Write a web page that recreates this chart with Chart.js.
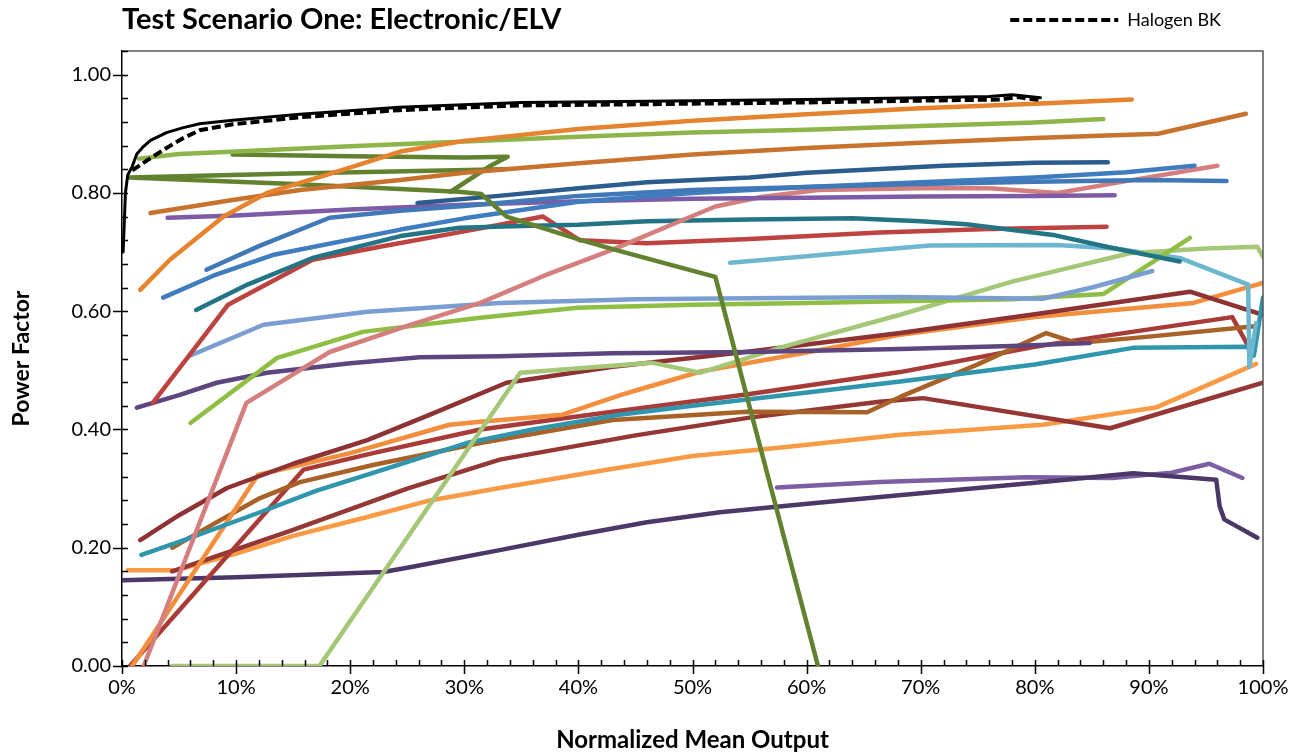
<!DOCTYPE html>
<html>
<head>
<meta charset="utf-8">
<script src="https://cdn.jsdelivr.net/npm/chart.js@4"></script>
<style>
html,body{margin:0;padding:0;background:#fff;}
#wrap{width:1305px;height:755px;}
</style>
</head>
<body>
<div id="wrap"><canvas id="c" width="1305" height="755"></canvas></div>
<script>
// ---- data: [normalized output %, power factor] ----
const halogenSolid = [[0.1,0.70],[0.3,0.80],[0.5,0.83],[0.9,0.845],[1.3,0.866],[1.8,0.877],[2.5,0.889],[3.9,0.902],[5.3,0.91],[6.8,0.917],[9.7,0.923],[15.6,0.933],[24.3,0.945],[35,0.953],[46,0.955],[60,0.958],[70,0.961],[76,0.963],[78,0.966],[80.5,0.961]];
const halogenBK = [[0.9,0.838],[2.2,0.855],[3.9,0.876],[5.3,0.892],[6.8,0.906],[9.7,0.916],[15.6,0.928],[24.3,0.940],[35,0.948],[46,0.950],[60,0.953],[70,0.956],[77,0.958],[78.5,0.962],[80.5,0.957]];
const orangeTop = [[1.6,0.636],[4.2,0.687],[8.9,0.76],[12.7,0.80],[18.5,0.834],[24.4,0.870],[30,0.888],[40,0.908],[50,0.922],[60,0.933],[70,0.943],[80,0.951],[88.5,0.958]];
const greenTop = [[1.5,0.858],[5,0.866],[10,0.870],[20,0.879],[30,0.887],[40,0.895],[50,0.902],[60,0.907],[70,0.913],[80,0.919],[86,0.925]];
const darkOrange = [[2.5,0.766],[9.7,0.788],[15.6,0.805],[24.4,0.822],[30,0.834],[40,0.850],[50,0.865],[60,0.876],[70,0.885],[80,0.893],[90.8,0.900],[98.5,0.934]];
const darkGreenA = [[9.7,0.865],[20,0.862],[30,0.860],[33.8,0.861],[32.3,0.846],[28.8,0.802]];
const darkGreenB = [[33.5,0.840],[15,0.833],[0.6,0.826],[15,0.815],[29.5,0.802],[31.5,0.798],[33.7,0.76],[40.1,0.721],[43,0.705],[52,0.658],[61,0]];
const navyBlue = [[25.9,0.783],[33,0.795],[40,0.808],[46,0.818],[55,0.826],[60,0.834],[66,0.840],[72,0.846],[80,0.851],[86.4,0.852]];
const blueA = [[7.4,0.67],[12,0.71],[18.2,0.758],[24.4,0.770],[30,0.778],[40,0.795],[50,0.805],[60,0.810],[70,0.815],[80,0.819],[90,0.822],[96.8,0.820]];
const blueB = [[3.6,0.623],[8,0.66],[13.2,0.695],[24.4,0.738],[30,0.757],[40,0.785],[50,0.800],[60,0.810],[70,0.818],[80,0.826],[88,0.835],[94,0.846]];
const purpleTop = [[4,0.758],[10,0.762],[20,0.772],[30,0.780],[40,0.786],[50,0.790],[60,0.792],[70,0.794],[80,0.795],[87,0.796]];
const pink = [[1.9,0],[10.9,0.445],[13.2,0.472],[18.2,0.531],[25,0.575],[31.4,0.614],[37,0.66],[43,0.704],[48,0.745],[52,0.777],[56,0.793],[61,0.805],[70,0.808],[76,0.808],[82,0.80],[88,0.82],[96,0.846]];
const darkTeal = [[6.5,0.602],[11,0.645],[16.7,0.69],[24.4,0.727],[29.6,0.741],[35,0.744],[40,0.746],[46,0.752],[55,0.755],[64,0.757],[70,0.752],[74,0.747],[81.6,0.729],[86.3,0.709],[92.7,0.684]];
const redUpper = [[2.7,0.445],[9.3,0.611],[16.7,0.687],[22.6,0.709],[30,0.735],[36.9,0.76],[40.1,0.72],[46,0.715],[55,0.722],[66.4,0.733],[76,0.739],[86.3,0.743]];
const lightBlue = [[6,0.525],[12.4,0.577],[21.5,0.599],[33.1,0.614],[45,0.620],[55,0.622],[68.2,0.624],[80.7,0.621],[85,0.640],[90.3,0.668]];
const greenMid = [[6,0.411],[13.6,0.521],[21.1,0.565],[31.4,0.589],[39.9,0.606],[50,0.611],[60,0.614],[68.2,0.617],[78,0.620],[86,0.629],[93.6,0.724]];
const darkPurple = [[1.3,0.437],[5,0.458],[8.3,0.479],[12.7,0.496],[20,0.512],[26.1,0.522],[33.1,0.524],[43,0.529],[55,0.531],[68.2,0.536],[78,0.541],[84.8,0.546]];
const lightGreen = [[4.4,0],[17.3,0],[31.1,0.389],[34.9,0.496],[46.4,0.513],[50.7,0.496],[58,0.54],[68.2,0.594],[78,0.65],[88.3,0.698],[95,0.706],[99.5,0.709],[100,0.692]];
const lightAqua = [[53.3,0.682],[60,0.693],[66.4,0.704],[70.8,0.711],[81.9,0.712],[87,0.706],[92.7,0.69],[98.7,0.645],[98.8,0.506],[99.4,0.58]];
const aqua = [[1.7,0.188],[5,0.21],[12.1,0.26],[17,0.296],[22.9,0.332],[30.2,0.377],[36,0.40],[43.6,0.425],[50,0.44],[58,0.458],[68.2,0.481],[80,0.51],[88.6,0.538],[98.6,0.54],[99.2,0.525],[100,0.623]];
const maroon = [[1.6,0.213],[5,0.255],[9.2,0.301],[15,0.342],[21.5,0.382],[27,0.425],[33.7,0.479],[43,0.506],[55,0.532],[68.2,0.563],[80,0.595],[93.6,0.633],[100,0.594]];
const orangeMid = [[0.9,0],[11.9,0.323],[20,0.36],[28.7,0.408],[31.4,0.413],[38.6,0.425],[44,0.46],[50.7,0.498],[60,0.53],[68.2,0.56],[80,0.59],[93.9,0.614],[100,0.648]];
const brown = [[4.4,0.2],[8,0.24],[12.1,0.284],[15.6,0.311],[22,0.34],[31.4,0.377],[43,0.416],[54.8,0.43],[65.3,0.429],[68.2,0.455],[75,0.51],[81,0.563],[83.7,0.546],[90,0.557],[99.5,0.575]];
const redMid = [[0.7,0],[15.9,0.332],[22,0.36],[31.4,0.40],[43,0.43],[55,0.46],[68.2,0.497],[80,0.54],[85.7,0.557],[97.3,0.59],[98.8,0.538]];
const darkRed = [[4.4,0.16],[15,0.23],[25,0.30],[33.1,0.349],[45,0.39],[55,0.42],[66.4,0.447],[70.2,0.453],[86.6,0.402],[100,0.479]];
const orangeLow = [[0.5,0.162],[4.8,0.162],[10,0.19],[15,0.22],[21.5,0.252],[27,0.28],[33.1,0.301],[42.5,0.332],[50,0.355],[58,0.37],[68.2,0.391],[80.7,0.408],[90.6,0.437],[99.4,0.511]];
const indigo = [[0,0.145],[10,0.15],[22.9,0.159],[25,0.166],[33.1,0.196],[40,0.222],[46,0.243],[52.4,0.26],[61,0.276],[70,0.292],[80,0.31],[88.6,0.326],[95.9,0.315],[96.2,0.27],[96.6,0.248],[99.5,0.217]];
const purpleLow = [[57.4,0.302],[66.4,0.311],[79.3,0.319],[86.8,0.318],[92,0.327],[95.3,0.342],[98.2,0.318]];

const xTicks = [0,10,20,30,40,50,60,70,80,90,100];
const yTicks = [0,0.2,0.4,0.6,0.8,1.0];
const halogenDash = [9, 4];

function mk(label, pts, color, extra) {
  return Object.assign({
    label: label,
    data: pts.map(p => ({x: p[0], y: p[1]})),
    borderColor: color,
    backgroundColor: color,
    borderWidth: 4.5,
    pointRadius: 0,
    pointHoverRadius: 0,
    tension: 0,
    fill: false,
    borderCapStyle: 'round',
    borderJoinStyle: 'round'
  }, extra || {});
}

const datasets = [
  mk('Halogen BK', halogenBK, '#000000', {borderWidth: 4, borderDash: halogenDash, borderCapStyle: 'butt'}),
  mk('halogenSolid', halogenSolid, '#000000', {borderWidth: 3}),
  mk('orangeTop', orangeTop, '#E5832F'),
  mk('greenTop', greenTop, '#8DB54A'),
  mk('darkOrange', darkOrange, '#C9722E'),
  mk('darkGreenA', darkGreenA, '#62822F'),
  mk('darkGreenB', darkGreenB, '#62822F'),
  mk('navyBlue', navyBlue, '#2C5C8E'),
  mk('blueA', blueA, '#4179B8'),
  mk('blueB', blueB, '#3F7CC0'),
  mk('purpleTop', purpleTop, '#7D5BA6'),
  mk('pink', pink, '#D47F7E'),
  mk('darkTeal', darkTeal, '#237585'),
  mk('redUpper', redUpper, '#BE4340'),
  mk('lightBlue', lightBlue, '#7A9ED2'),
  mk('greenMid', greenMid, '#8FBE45'),
  mk('darkPurple', darkPurple, '#5D4580'),
  mk('lightGreen', lightGreen, '#A5C878'),
  mk('lightAqua', lightAqua, '#6CB6CF'),
  mk('aqua', aqua, '#3096AE'),
  mk('maroon', maroon, '#8E3234'),
  mk('orangeMid', orangeMid, '#F28E3C'),
  mk('brown', brown, '#A86127'),
  mk('redMid', redMid, '#A83A38'),
  mk('darkRed', darkRed, '#953735'),
  mk('orangeLow', orangeLow, '#F99A45'),
  mk('indigo', indigo, '#4B3868'),
  mk('purpleLow', purpleLow, '#7C5EA2')
];

const FONT = 'Lato, "Open Sans", sans-serif';

// put the legend on the same row as the title
const legendRowPlugin = {
  id: 'legendRow',
  afterLayout(chart) {
    const lg = chart.legend;
    if (!lg) return;
    const h = lg.bottom - lg.top;
    lg.top = 7; lg.bottom = 7 + h;
    lg.left -= 38; lg.right -= 38;
  }
};

const tickPlugin = {
  id: 'tickPlugin',
  afterDraw(chart) {
    const ctx = chart.ctx;
    const a = chart.chartArea;
    const xs = chart.scales.x, ys = chart.scales.y;
    ctx.save();
    ctx.strokeStyle = '#555';
    ctx.lineWidth = 1.5;
    ctx.beginPath();
    ctx.moveTo(a.left, a.top); ctx.lineTo(a.right, a.top); ctx.lineTo(a.right, a.bottom);
    ctx.stroke();
    ctx.strokeStyle = '#000';
    ctx.lineWidth = 1.5;
    ctx.beginPath();
    for (let i = 0; i <= 26; i++) {
      const v = i * 0.04;
      const y = Math.round(ys.getPixelForValue(v)) + 0.5;
      const major = (i % 5 === 0);
      ctx.moveTo(major ? a.left - 9 : a.left, y);
      ctx.lineTo(a.left + 6, y);
    }
    for (let i = 0; i <= 50; i++) {
      const v = i * 2;
      const x = Math.round(xs.getPixelForValue(v)) + 0.5;
      const major = (i % 5 === 0);
      ctx.moveTo(x, a.bottom - 6);
      ctx.lineTo(x, major ? a.bottom + 8 : a.bottom);
    }
    ctx.stroke();
    ctx.restore();
  }
};

new Chart(document.getElementById('c'), {
  type: 'line',
  data: { datasets: datasets },
  plugins: [legendRowPlugin, tickPlugin],
  options: {
    responsive: false,
    animation: false,
    events: [],
    layout: { padding: { left: 0, right: 42, top: 0, bottom: 0 } },
    plugins: {
      tooltip: { enabled: false },
      title: {
        display: true,
        fullSize: false,
        text: 'Test Scenario One: Electronic/ELV',
        align: 'start',
        color: '#000',
        font: { family: FONT, size: 29, weight: 'bold' },
        padding: { top: 2, bottom: -17.8 }
      },
      legend: {
        display: true,
        position: 'top',
        align: 'end',
        labels: {
          generateLabels: chart => Chart.defaults.plugins.legend.labels.generateLabels(chart)
            .filter(item => item.text === 'Halogen BK')
            .map(item => Object.assign(item, { lineDash: halogenDash, lineWidth: 4, pointStyle: 'line', strokeStyle: '#000' })),
          usePointStyle: true,
          pointStyle: 'line',
          pointStyleWidth: 108,
          boxHeight: 18,
          color: '#000',
          padding: 4,
          font: { family: FONT, size: 18 }
        }
      }
    },
    scales: {
      x: {
        type: 'linear',
        min: 0, max: 100,
        afterBuildTicks: s => { s.ticks = xTicks.map(v => ({value: v})); },
        afterFit: s => { s.height = 89; },
        ticks: { callback: v => v + '%', color: '#000', font: { family: FONT, size: 20 }, padding: 10, maxRotation: 0 },
        grid: { display: false, drawTicks: false },
        border: { display: true, color: '#000', width: 1.5 },
        title: { display: true, text: 'Normalized Mean Output', color: '#000', font: { family: FONT, size: 24, weight: 'bold' }, padding: { top: 1, bottom: 0 } }
      },
      y: {
        type: 'linear',
        min: 0, max: 1.04,
        afterBuildTicks: s => { s.ticks = yTicks.map(v => ({value: v})); },
        afterFit: s => { s.width = 122; },
        ticks: { callback: v => v.toFixed(2), color: '#000', font: { family: FONT, size: 20 }, padding: 11 },
        grid: { display: false, drawTicks: false },
        border: { display: true, color: '#000', width: 1.5 },
        title: { display: true, text: 'Power Factor', color: '#000', font: { family: FONT, size: 23, weight: 'bold' }, padding: { top: 8, bottom: 0 } }
      }
    }
  }
});
</script>
</body>
</html>
